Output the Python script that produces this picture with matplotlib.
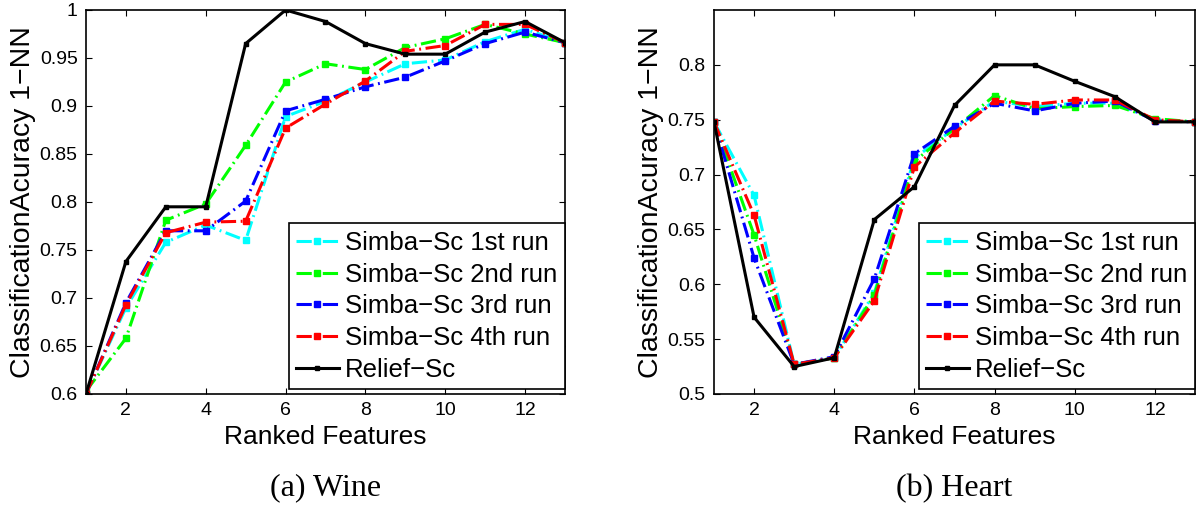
"""
Ranked-feature classification accuracy (1-NN) on Wine and Heart:
four Simba-Sc runs against Relief-Sc.
"""

import matplotlib
matplotlib.use("Agg")
import matplotlib.pyplot as plt
from matplotlib.ticker import FormatStrFormatter

plt.rcParams["font.family"] = ["Liberation Sans", "DejaVu Sans"]

FEATURES = list(range(1, 14))

SERIES_LABELS = [
    "Simba\u2212Sc 1st run",
    "Simba\u2212Sc 2nd run",
    "Simba\u2212Sc 3rd run",
    "Simba\u2212Sc 4th run",
    "Relief\u2212Sc",
]

# --- Wine -------------------------------------------------------------------
wine_run1 = [0.600, 0.690, 0.758, 0.776, 0.760, 0.889, 0.905, 0.925, 0.944, 0.948, 0.967, 0.980, 0.966]
wine_run2 = [0.603, 0.658, 0.781, 0.798, 0.859, 0.925, 0.944, 0.938, 0.961, 0.970, 0.985, 0.975, 0.966]
wine_run3 = [0.600, 0.695, 0.770, 0.770, 0.801, 0.895, 0.907, 0.920, 0.930, 0.947, 0.965, 0.977, 0.966]
wine_run4 = [0.600, 0.693, 0.768, 0.779, 0.780, 0.877, 0.902, 0.926, 0.957, 0.963, 0.985, 0.985, 0.966]
wine_relief = [0.600, 0.738, 0.795, 0.795, 0.965, 1.000, 0.988, 0.965, 0.954, 0.954, 0.977, 0.988, 0.966]

# --- Heart ------------------------------------------------------------------
heart_run1 = [0.748, 0.681, 0.527, 0.533, 0.592, 0.715, 0.742, 0.767, 0.762, 0.765, 0.765, 0.750, 0.748]
heart_run2 = [0.748, 0.645, 0.527, 0.533, 0.590, 0.712, 0.742, 0.772, 0.760, 0.762, 0.763, 0.751, 0.748]
heart_run3 = [0.748, 0.624, 0.527, 0.534, 0.605, 0.719, 0.744, 0.765, 0.758, 0.765, 0.767, 0.749, 0.748]
heart_run4 = [0.748, 0.663, 0.527, 0.533, 0.585, 0.707, 0.738, 0.767, 0.764, 0.768, 0.768, 0.750, 0.748]
heart_relief = [0.748, 0.570, 0.525, 0.533, 0.659, 0.689, 0.763, 0.800, 0.800, 0.785, 0.771, 0.748, 0.748]

WINE_YTICKS = [0.6, 0.65, 0.7, 0.75, 0.8, 0.85, 0.9, 0.95, 1.0]
HEART_YTICKS = [0.5, 0.55, 0.6, 0.65, 0.7, 0.75, 0.8]
XTICKS = [2, 4, 6, 8, 10, 12]

RUN_COLORS = ["#00FFFF", "#00FF00", "#0000FF", "#FF0000"]
DASHDOT = (5, 1.5, 0.6, 1.5)


def draw_panel(ax, runs, relief, ylim, yticks, caption):
    for vals, col, lab in zip(runs, RUN_COLORS, SERIES_LABELS[:4]):
        ax.plot(FEATURES, vals, color=col, linewidth=2.2, dashes=DASHDOT,
                marker="s", markersize=4.5, label=lab)
    ax.plot(FEATURES, relief, color="black", linewidth=2.2, marker="s",
            markersize=3.5, label=SERIES_LABELS[4])

    ax.set_xlim(1, 13)
    ax.set_ylim(*ylim)
    ax.set_xticks(XTICKS)
    ax.set_yticks(yticks)
    ax.yaxis.set_major_formatter(FormatStrFormatter("%g"))
    ax.tick_params(direction="in", length=4, width=0.8, labelsize=14,
                   top=True, right=True, pad=6)
    for sp in ax.spines.values():
        sp.set_linewidth(1.2)

    ax.set_xlabel("Ranked Features", fontsize=19, labelpad=4)
    ax.set_ylabel("ClassificationAcuracy 1\u2212NN", fontsize=20.5, labelpad=3)

    leg = ax.legend(loc="lower right", bbox_to_anchor=(1.0, 0.012),
                    borderaxespad=0, fontsize=18.5, handlelength=1.65,
                    handletextpad=0.25, labelspacing=0.3, borderpad=0.3,
                    fancybox=False, framealpha=1, edgecolor="black")
    leg.get_frame().set_linewidth(1.2)

    ax.text(0.5, -0.245, caption, transform=ax.transAxes, ha="center",
            va="center", fontsize=23, family=["Liberation Serif", "DejaVu Serif"])


fig = plt.figure(figsize=(11.99, 5.07), dpi=100)
ax_wine = fig.add_axes([86 / 1199, 1 - 394 / 507, (565 - 86) / 1199, (394 - 10) / 507])
ax_heart = fig.add_axes([714 / 1199, 1 - 394 / 507, (1195 - 714) / 1199, (394 - 10) / 507])

draw_panel(ax_wine, [wine_run1, wine_run2, wine_run3, wine_run4], wine_relief,
           (0.6, 1.0), WINE_YTICKS, "(a) Wine")
draw_panel(ax_heart, [heart_run1, heart_run2, heart_run3, heart_run4], heart_relief,
           (0.5, 0.85), HEART_YTICKS, "(b) Heart")

fig.savefig("out.png", dpi=100, facecolor="white")
